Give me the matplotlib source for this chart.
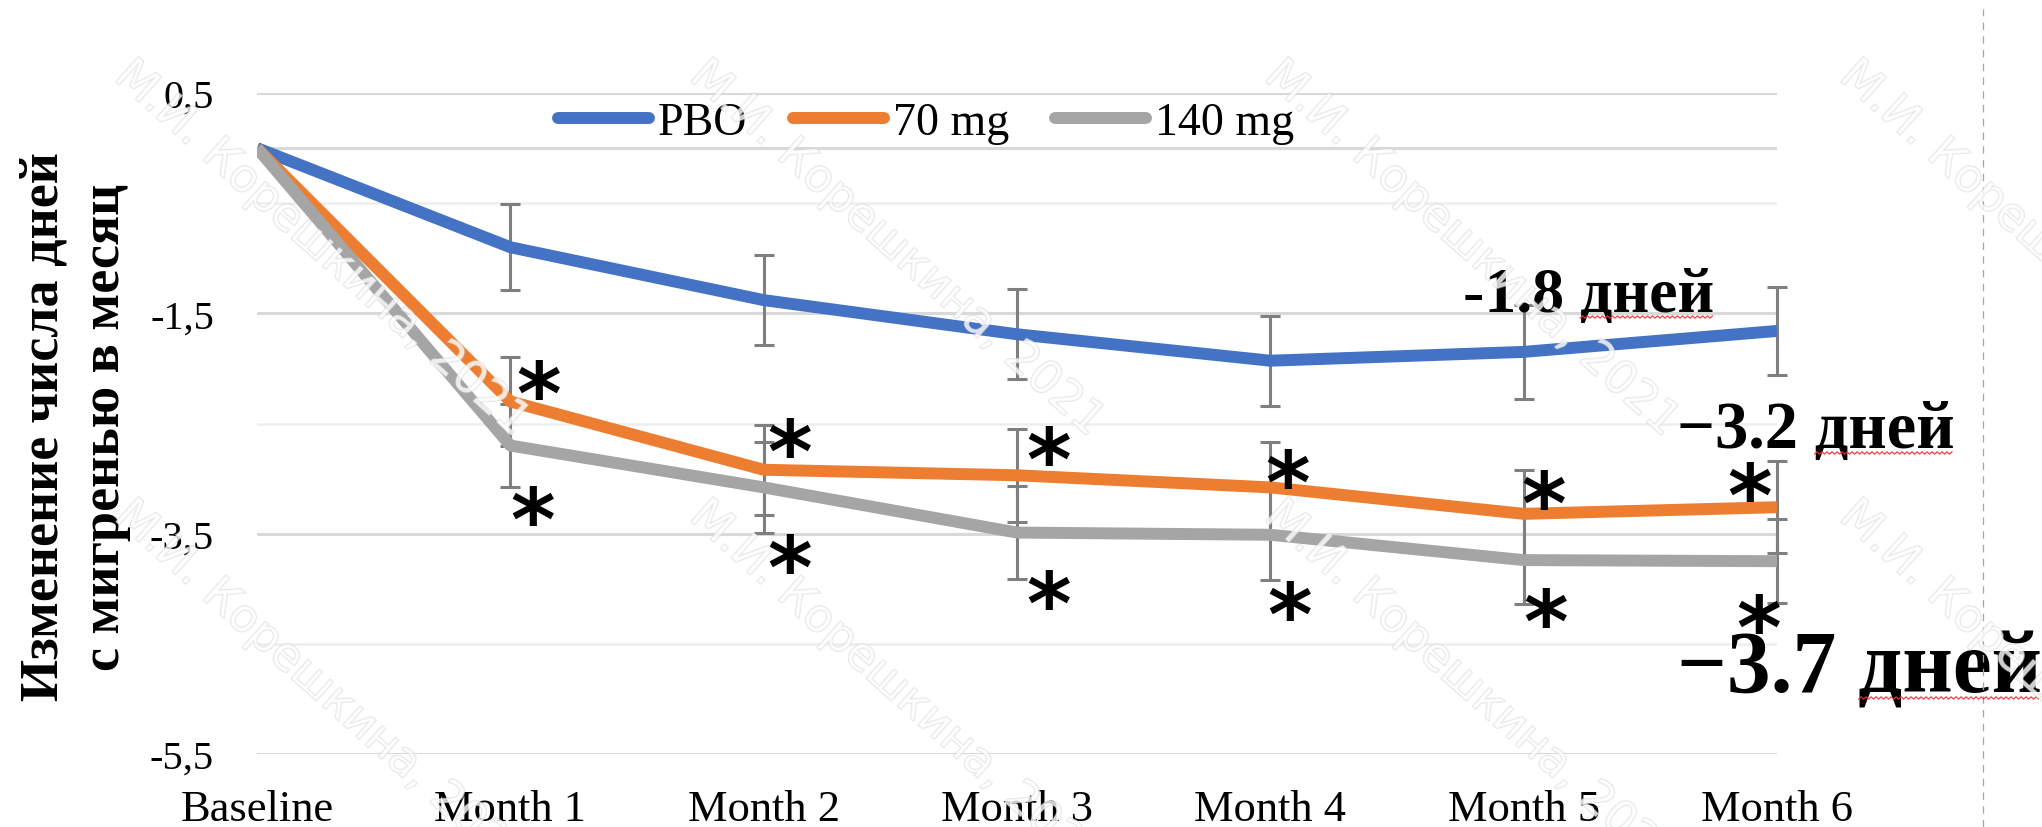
import matplotlib

matplotlib.use("Agg")
import matplotlib.patheffects as pe  # noqa: E402
import matplotlib.pyplot as plt  # noqa: E402
import numpy as np  # noqa: E402
from matplotlib.font_manager import FontProperties  # noqa: E402
from matplotlib.lines import Line2D  # noqa: E402
from matplotlib.textpath import TextPath  # noqa: E402
from matplotlib.transforms import IdentityTransform  # noqa: E402

# change in migraine days per month, mean ± error, by visit
months = ["Baseline", "Month 1", "Month 2", "Month 3", "Month 4", "Month 5", "Month 6"]
series_names = ["PBO", "70 mg", "140 mg"]
pbo = [0.0, -0.90, -1.38, -1.69, -1.93, -1.85, -1.66]
mg70 = [0.0, -2.30, -2.92, -2.97, -3.08, -3.32, -3.26]
mg140 = [0.0, -2.70, -3.08, -3.49, -3.51, -3.74, -3.75]
pbo_err = [0.0, 0.39, 0.41, 0.41, 0.41, 0.43, 0.40]
mg70_err = [0.0, 0.40, 0.41, 0.42, 0.41, 0.40, 0.42]
mg140_err = [0.0, 0.38, 0.41, 0.42, 0.41, 0.40, 0.38]

ytick_vals = [0.5, -1.5, -3.5, -5.5]
ytick_labels = ["0,5", "-1,5", "-3,5", "-5,5"]
yminor_vals = [-0.5, -2.5, -4.5]

ylabel = "Изменение числа дней\nс мигренью в месяц"
unit = "дней"
watermark = "М.И. Корешкина, 2021"

C = {
    "pbo": "#4472c4",
    "mg70": "#ed7d31",
    "mg140": "#a5a5a5",
    "err": "#7f7f7f",
    "grid": "#d9d9d9",
    "minor": "#eeeeee",
}
SERIF = "Liberation Serif"
W, H, DPI = 2042, 828, 100

fig = plt.figure(figsize=(W / DPI, H / DPI), dpi=DPI)
fig.patch.set_facecolor("white")
ax = fig.add_axes([257 / W, 1 - 755 / H, 1520 / W, 661 / H])

x = np.arange(len(months))
ax.set_xlim(0, 6)
ax.set_ylim(-5.5, 0.5)
for s in ax.spines.values():
    s.set_visible(False)

ax.set_yticks(ytick_vals)
ax.set_yticklabels(ytick_labels)
ax.set_yticks(yminor_vals, minor=True)
ax.set_xticks(x)
ax.set_xticklabels(months)
ax.tick_params(which="both", length=0)
ax.tick_params(axis="y", pad=31, labelsize=29)
ax.tick_params(axis="x", pad=25, labelsize=32)
for lab in ax.get_xticklabels() + ax.get_yticklabels():
    lab.set_fontfamily(SERIF)
ax.grid(True, which="major", axis="y", color=C["grid"], linewidth=2.2)
ax.grid(True, which="minor", axis="y", color=C["minor"], linewidth=1.8)
ax.axhline(0, color=C["grid"], linewidth=2.2, zorder=0.5)
ax.set_axisbelow(True)

# error bars first so the series lines sit over them
for vals, err in ((pbo, pbo_err), (mg70, mg70_err), (mg140, mg140_err)):
    ax.errorbar(x[1:], vals[1:], yerr=err[1:], fmt="none", ecolor=C["err"],
                elinewidth=2.2, capsize=7.2, capthick=2.2, zorder=2, clip_on=False)

for vals, key in ((pbo, "pbo"), (mg70, "mg70"), (mg140, "mg140")):
    ax.plot(x, vals, color=C[key], linewidth=8.6, solid_capstyle="butt",
            solid_joinstyle="round", zorder=3)

handles = [Line2D([], [], color=C[k], linewidth=8.6, solid_capstyle="round")
           for k in ("pbo", "mg70", "mg140")]
ax.legend(handles, series_names, loc="center left", bbox_to_anchor=(0.198, 0.9546),
          ncol=3, frameon=False, borderpad=0, borderaxespad=0, handlelength=1.98,
          handletextpad=0.2, columnspacing=1.0,
          prop=FontProperties(family=SERIF, size=33))

# significance asterisks, offsets (px) of the glyph centre from each point
star_fp = FontProperties(family="DejaVu Sans", weight="bold")
tp = TextPath((0, 0), "*", size=100, prop=star_fp)
bb = tp.get_extents()
star_size = 28.5 / (bb.height / 100)
star_cx = (bb.x0 + bb.x1) / 2 * star_size / 100
star_cy = (bb.y0 + bb.y1) / 2 * star_size / 100
star_70 = [(28, 22), (26, 32), (32, 30), (17, 19), (20, 24), (-27, 26)]
star_140 = [(22, -60), (26, -66), (32, -57), (19, -66), (22, -47), (-18, -52)]
for vals, offs in ((mg70, star_70), (mg140, star_140)):
    for xi, yi, (dx, dy) in zip(x[1:], vals[1:], offs):
        ax.annotate("*", (xi, yi), xytext=(dx * 0.72 - star_cx, dy * 0.72 - star_cy),
                    textcoords="offset points", ha="left", va="baseline",
                    fontproperties=star_fp, fontsize=star_size, zorder=4,
                    annotation_clip=False)

# mean change over months 4-6, written next to the curves
label_pos = [(4.76, -1.479, 46, "-"), (5.605, -2.713, 48, "\u2212"), (5.607, -4.937, 63, "\u2212")]
labels = []
for vals, (lx, ly, fs, dash) in zip((pbo, mg70, mg140), label_pos):
    m = np.mean(vals[4:])
    prefix = f"{dash}{abs(m):.1f} "
    t = ax.text(lx, ly, prefix + unit, ha="left", va="baseline", fontsize=fs,
                fontfamily=SERIF, fontweight="bold", zorder=5, clip_on=False)
    labels.append((t, prefix))

fig.text(75 / W, 1 - 427 / H, ylabel, rotation=90, ha="center", va="center",
         multialignment="center", fontsize=39, fontfamily=SERIF, fontweight="bold",
         linespacing=1.3)

# dashed page edge on the right
fig.add_artist(Line2D([1983 / W] * 2, [0, 1 - 10 / H], transform=fig.transFigure,
                      color="#a6a6a6", linewidth=0.9, linestyle=(0, (6, 5))))

# red spell-check squiggle under the unit word
fig.canvas.draw()
rend = fig.canvas.get_renderer()
for t, prefix in labels:
    ext = t.get_window_extent(rend)
    tmp = ax.text(0, 0, prefix, fontsize=t.get_fontsize(), fontfamily=SERIF,
                  fontweight="bold")
    pw = tmp.get_window_extent(rend).width
    tmp.remove()
    base_y = ax.transData.transform(t.get_position())[1]
    xs = np.arange(ext.x0 + pw, ext.x1, 2.5)
    ys = base_y - 6 + 1.2 * (np.arange(len(xs)) % 2 * 2 - 1)
    fig.add_artist(Line2D(xs, ys, transform=IdentityTransform(), color="#ff3030",
                          linewidth=0.8, zorder=6))

# copyright watermark tiled over the figure, hollow light-grey letters
for j in (-1, 0, 1):
    for i in (-1, 0, 1, 2, 3):
        cx, cy = 322 + 575 * i, 250 + 440 * j
        fig.text(cx / W, 1 - cy / H, watermark, rotation=-41.8, rotation_mode="anchor",
                 ha="center", va="center", fontsize=33, fontfamily="DejaVu Sans",
                 color="white", alpha=0.55, zorder=10,
                 path_effects=[pe.withStroke(linewidth=1.2, foreground="#d4d4d4")])

fig.savefig("out.png", dpi=DPI, facecolor="white")
